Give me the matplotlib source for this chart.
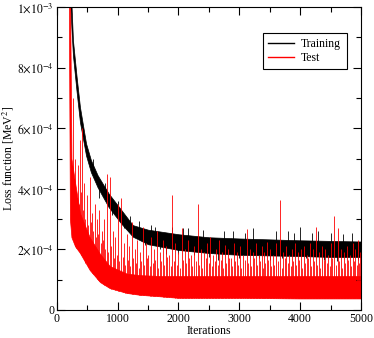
import matplotlib
matplotlib.use("Agg")
import matplotlib.pyplot as plt
import numpy as np

plt.rcParams['font.family'] = ['Liberation Serif', 'DejaVu Serif']
plt.rcParams['mathtext.fontset'] = 'stix'

# training loss: noisy band (units of 1e-4 MeV^2)
train_iter = [210, 240, 265, 325, 380, 480, 560, 670, 850, 1060, 1250, 1500,
              2000, 2500, 3000, 3500, 4000, 4500, 5000]
train_low = [10.5, 9.3, 8.4, 7.2, 6.2, 5.1, 4.55, 4.05, 3.4, 2.85, 2.42, 2.17,
             1.98, 1.88, 1.82, 1.8, 1.78, 1.75, 1.75]
train_high = [11.0, 10.1, 8.9, 7.7, 6.7, 5.5, 4.95, 4.45, 3.85, 3.3, 2.8, 2.65,
              2.5, 2.4, 2.36, 2.33, 2.3, 2.28, 2.26]
train_spike_iter = [600, 700, 800, 900, 1000, 1100, 1200, 1350, 1450, 1550,
                    1620, 1700, 1800, 1900, 2000, 2080, 2150, 2250, 2400, 2500,
                    2650, 2750, 2900, 3000, 3100, 3220, 3330, 3500, 3600, 3700,
                    3800, 3900, 4000, 4100, 4200, 4300, 4400, 4500, 4600, 4700,
                    4850, 4950]
train_spike_val = [5.0, 3.7, 4.2, 3.15, 3.6, 2.7, 3.1, 2.95, 2.15, 2.8,
                   2.75, 2.0, 1.85, 2.75, 1.85, 2.7, 2.7, 1.8, 2.65, 1.75,
                   1.65, 2.6, 2.6, 1.7, 2.55, 2.7, 1.7, 1.65, 2.6, 1.7,
                   2.6, 2.55, 2.74, 1.7, 2.55, 2.6, 1.65, 2.55, 1.6, 2.5,
                   2.55, 1.65]

# test loss: dense band + spikes
test_iter = [200, 215, 240, 300, 380, 540, 710, 870, 1150, 1365, 1700, 2000,
             3000, 4000, 5000]
test_low = [9.0, 3.0, 2.4, 2.1, 1.88, 1.32, 0.92, 0.72, 0.56, 0.5, 0.45, 0.4,
            0.4, 0.38, 0.38]
test_high = [11.0, 11.0, 5.0, 4.2, 3.2, 2.4, 1.85, 1.45, 1.2, 1.15, 1.12, 1.12,
             1.12, 1.12, 1.12]
test_spike_iter = [260, 300, 340, 380, 410, 450, 490, 540, 580, 620, 660, 700,
                   740, 780, 820, 870, 920, 960, 1010, 1060, 1100, 1150, 1190,
                   1230, 1280, 1320, 1370, 1410, 1460, 1500, 1550, 1600, 1640,
                   1690, 1740, 1790, 1840, 1900, 1950, 2000, 2050, 2100, 2150,
                   2200, 2260, 2320, 2370, 2420, 2470, 2515, 2570, 2620, 2670,
                   2720, 2760, 2810, 2860, 2910, 2960, 3010, 3060, 3120, 3170,
                   3220, 3270, 3320, 3370, 3410, 3450, 3500, 3550, 3600, 3670,
                   3720, 3770, 3820, 3870, 3910, 3960, 4010, 4060, 4110, 4160,
                   4210, 4260, 4310, 4360, 4410, 4460, 4510, 4555, 4620, 4670,
                   4720, 4770, 4820, 4870, 4910, 4950, 4990]
test_spike_val = [7.0, 5.0, 4.8, 5.6, 6.0, 4.2, 3.8, 4.4, 3.2, 3.5, 3.0, 3.3,
                  2.6, 3.0, 4.5, 4.4, 2.6, 2.4, 3.5, 3.7, 2.2, 2.5, 2.1,
                  2.9, 2.0, 2.3, 1.9, 2.75, 2.2, 1.8, 2.4, 2.0, 2.6,
                  1.9, 2.3, 2.1, 1.8, 3.8, 2.2, 1.9, 2.7, 2.0, 2.3,
                  1.8, 2.1, 3.5, 2.0, 1.9, 2.2, 2.4, 1.8, 2.0, 2.3,
                  1.9, 2.15, 2.0, 1.7, 2.2, 1.9, 2.1, 1.8, 2.67, 2.0,
                  1.9, 2.2, 1.8, 2.1, 1.9, 2.25, 2.0, 1.8, 2.2, 3.63,
                  1.9, 2.1, 1.8, 2.0, 2.2, 1.9, 2.0, 2.1, 1.8, 2.2,
                  2.0, 2.74, 1.9, 2.1, 2.0, 1.8, 2.2, 3.1, 2.7, 2.0,
                  1.9, 2.1, 1.8, 2.2, 2.0, 2.3, 1.9]
test_small_iter = [280, 320, 360, 395, 430, 470, 515, 560, 600, 640, 680, 720,
                   760, 800, 845, 895, 940, 985, 1025, 1080, 1125, 1170, 1210,
                   1255, 1300, 1345, 1390, 1435, 1480, 1525, 1575, 1620, 1665,
                   1715, 1765, 1815, 1870, 1925, 1975, 2025, 2075, 2125, 2175,
                   2230, 2290, 2345, 2395, 2445, 2495, 2545, 2595, 2645, 2695,
                   2740, 2785, 2835, 2885, 2935, 2985, 3035, 3090, 3145, 3195,
                   3245, 3295, 3345, 3390, 3430, 3475, 3525, 3575, 3630, 3695,
                   3745, 3795, 3845, 3890, 3935, 3985, 4035, 4085, 4135, 4185,
                   4235, 4285, 4335, 4385, 4435, 4485, 4530, 4590, 4645, 4695,
                   4745, 4795, 4845, 4890, 4930, 4970]
test_small_val = [4.0, 3.8, 3.5, 3.9, 3.3, 3.0, 2.8, 2.9, 2.6, 2.4, 2.5, 2.2,
                  2.3, 2.0, 1.9, 2.1, 1.7, 1.8, 1.6, 1.75, 1.5, 1.65, 1.45,
                  1.7, 1.55, 1.4, 1.6, 1.5, 1.7, 1.45, 1.55, 1.65, 1.4,
                  1.6, 1.5, 1.75, 1.45, 1.6, 1.5, 1.4, 1.65, 1.55, 1.7,
                  1.45, 1.6, 1.5, 1.4, 1.7, 1.55, 1.45, 1.6, 1.5, 1.65,
                  1.4, 1.55, 1.7, 1.45, 1.6, 1.5, 1.4, 1.65, 1.55, 1.45,
                  1.7, 1.5, 1.6, 1.4, 1.55, 1.65, 1.45, 1.5, 1.6, 1.4,
                  1.7, 1.55, 1.45, 1.6, 1.5, 1.65, 1.4, 1.55, 1.7, 1.45,
                  1.6, 1.5, 1.4, 1.65, 1.55, 1.45, 1.7, 1.5, 1.6, 1.4,
                  1.55, 1.65, 1.45, 1.6, 1.5, 1.55]

scale = 1e-4

fig = plt.figure(figsize=(3.74, 3.38), dpi=100)
ax = fig.add_axes([0.152, 0.083, 0.813, 0.896])

# training
ti = np.array(train_iter)
tl = np.array(train_low) * scale
th = np.array(train_high) * scale
ax.fill_between(ti, tl, th, color='black', linewidth=0.5)
tmid = np.interp(train_spike_iter, ti, (tl + th) / 2)
ax.vlines(train_spike_iter, tmid, np.array(train_spike_val) * scale,
          color='black', linewidth=0.6)

# test
si = np.array(test_iter)
sl = np.array(test_low) * scale
sh = np.array(test_high) * scale
ax.fill_between(si, sl, sh, color='red', linewidth=0.5)
base = np.interp(test_spike_iter, si, sl)
ax.vlines(test_spike_iter, base, np.array(test_spike_val) * scale,
          color='red', linewidth=0.6)
base2 = np.interp(test_small_iter, si, sl)
ax.vlines(test_small_iter, base2, np.array(test_small_val) * scale,
          color='red', linewidth=0.6)

# legend proxies
ax.plot([], [], color='black', linewidth=1, label='Training')
ax.plot([], [], color='red', linewidth=1, label='Test')
leg = ax.legend(loc='upper left', bbox_to_anchor=(0.658, 0.935), fontsize=8.5,
                fancybox=False, framealpha=1, edgecolor='black',
                handlelength=2.2, handletextpad=0.6, borderpad=0.45,
                labelspacing=0.15)
leg.get_frame().set_linewidth(0.8)

ax.set_xlim(0, 5000)
ax.set_ylim(0, 1e-3)
ax.set_xticks([0, 1000, 2000, 3000, 4000, 5000])
ax.set_xticks(np.arange(500, 5000, 1000), minor=True)
yt = [0, 2e-4, 4e-4, 6e-4, 8e-4, 1e-3]
ax.set_yticks(yt)
ax.set_yticklabels(['0', r'$2{\times}10^{-4}$', r'$4{\times}10^{-4}$',
                    r'$6{\times}10^{-4}$', r'$8{\times}10^{-4}$',
                    r'$1{\times}10^{-3}$'])
ax.set_yticks(np.arange(1e-4, 1e-3, 2e-4), minor=True)
ax.tick_params(which='both', direction='in', top=True, right=True,
               labelsize=8.5, width=0.8)
ax.tick_params(which='major', length=5.5)
ax.tick_params(which='minor', length=3.5)
ax.tick_params(axis='x', pad=2)
ax.tick_params(axis='y', pad=2)
for s in ax.spines.values():
    s.set_linewidth(0.8)

ax.set_xlabel('Iterations', fontsize=8.5, labelpad=0)
ax.set_ylabel(r'Loss function [MeV$^2$]', fontsize=8.5, labelpad=1)

fig.savefig('out.png', dpi=100)
